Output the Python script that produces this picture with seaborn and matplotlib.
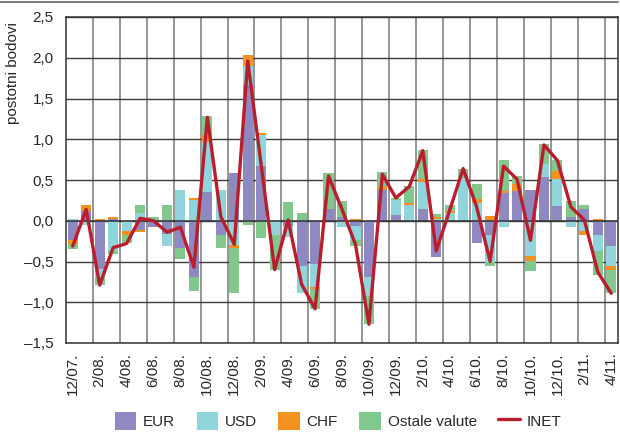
import numpy as np
import pandas as pd
import matplotlib
matplotlib.use("Agg")
from matplotlib import pyplot as plt
from matplotlib.patches import Patch
from matplotlib.lines import Line2D
from matplotlib.ticker import FuncFormatter, MultipleLocator
import seaborn as sns

# monthly contributions, percentage points
months = ['12/07.', '1/08.', '2/08.', '3/08.', '4/08.', '5/08.', '6/08.', '7/08.',
          '8/08.', '9/08.', '10/08.', '11/08.', '12/08.', '1/09.', '2/09.', '3/09.',
          '4/09.', '5/09.', '6/09.', '7/09.', '8/09.', '9/09.', '10/09.', '11/09.',
          '12/09.', '1/10.', '2/10.', '3/10.', '4/10.', '5/10.', '6/10.', '7/10.',
          '8/10.', '9/10.', '10/10.', '11/10.', '12/10.', '1/11.', '2/11.', '3/11.',
          '4/11.']

eur = [-0.24, 0.12, -0.59, 0.02, 0.00, -0.11, -0.08, -0.165,
       -0.33, -0.69, 0.35, -0.17, 0.58, 1.67, 0.67, 0.00,
       -0.07, -0.56, -0.53, 0.15, 0.045, -0.07, -0.69, 0.38,
       0.075, 0.00, 0.15, -0.44, 0.00, 0.00, -0.27, -0.17,
       0.34, 0.37, 0.38, 0.54, 0.18, 0.05, 0.15, -0.17,
       -0.31]
usd = [0.02, -0.05, -0.10, -0.37, -0.13, 0.09, 0.00, -0.145,
       0.38, 0.25, 0.62, 0.38, -0.30, 0.23, 0.38, -0.17,
       -0.13, -0.33, -0.28, 0.00, -0.08, -0.165, -0.23, 0.00,
       0.18, 0.19, 0.33, 0.02, 0.09, 0.53, 0.22, -0.33,
       -0.08, 0.00, -0.43, 0.16, 0.33, -0.08, -0.13, -0.20,
       -0.25]
chf = [-0.04, 0.07, 0.025, 0.03, -0.04, -0.03, 0.00, 0.00,
       0.00, 0.03, 0.08, 0.00, -0.03, 0.13, 0.03, 0.00,
       0.00, 0.00, -0.03, 0.00, 0.00, 0.025, 0.00, 0.03,
       0.00, 0.03, 0.03, 0.025, 0.03, 0.00, 0.05, 0.06,
       0.03, 0.075, -0.06, 0.00, 0.10, 0.00, -0.04, 0.025,
       -0.04]
other = [-0.07, 0.00, -0.10, -0.04, -0.10, 0.10, 0.04, 0.19,
         -0.14, -0.17, 0.24, -0.17, -0.56, -0.05, -0.21, -0.43,
         0.23, 0.09, -0.24, 0.43, 0.20, -0.07, -0.35, 0.19,
         0.03, 0.21, 0.36, 0.04, 0.07, 0.11, 0.18, -0.06,
         0.37, 0.10, -0.13, 0.24, 0.13, 0.19, 0.04, -0.30,
         -0.29]
inet = [-0.31, 0.14, -0.79, -0.33, -0.28, 0.03, 0.00, -0.14,
        -0.08, -0.57, 1.27, 0.05, -0.29, 1.96, 0.68, -0.60,
        0.01, -0.78, -1.08, 0.55, 0.14, -0.29, -1.27, 0.57,
        0.28, 0.42, 0.86, -0.37, 0.13, 0.64, 0.17, -0.50,
        0.67, 0.51, -0.24, 0.93, 0.74, 0.17, 0.01, -0.63,
        -0.89]

series_names = ['EUR', 'USD', 'CHF', 'Ostale valute']
colors = ['#8f89c2', '#90d5dc', '#f39220', '#82c88d']
line_color = '#b81e2b'

sns.set_style("white")
plt.rcParams['font.family'] = ['Liberation Sans', 'DejaVu Sans']

fig = plt.figure(figsize=(6.2, 4.34), dpi=100)
ax = fig.add_axes([66 / 620, 1 - 343 / 434, 552 / 620, 326 / 434])

# positive and negative parts stacked separately (drawn top layer last)
data = np.array([eur, usd, chf, other])
pos_cum = np.cumsum(np.clip(data, 0, None), axis=0)
neg_cum = np.cumsum(np.clip(data, None, 0), axis=0)
for k in range(3, -1, -1):
    for cum in (pos_cum, neg_cum):
        df = pd.DataFrame({'month': months, 'value': cum[k]})
        sns.barplot(data=df, x='month', y='value', order=months, color=colors[k],
                    saturation=1, width=0.75, linewidth=0, errorbar=None, ax=ax,
                    zorder=2)

sns.lineplot(x=np.arange(len(months)), y=inet, color=line_color, linewidth=2.4,
             ax=ax, zorder=4)

ax.axhline(0, color='#333333', lw=1.1, zorder=3)

ax.set_xlim(-0.5, len(months) - 0.5)
ax.set_ylim(-1.5, 2.5)
ax.yaxis.set_major_locator(MultipleLocator(0.5))
ax.yaxis.set_major_formatter(
    FuncFormatter(lambda v, _: f"{v:.1f}".replace('.', ',').replace('-', '\u2013')))
ax.set_xticks(np.arange(0, len(months), 2))
ax.set_xticklabels(months[::2], rotation=90, fontsize=11)
ax.set_xticks(np.arange(1.5, len(months) - 1, 2), minor=True)
ax.tick_params(axis='both', which='both', length=0, labelsize=11)
ax.tick_params(axis='x', pad=7)
ax.tick_params(axis='y', pad=9)
ax.set_xlabel('')
ax.set_ylabel('')

ax.grid(axis='y', which='major', color='#3c3c3c', lw=1.0)
ax.grid(axis='x', which='minor', color='#8c8c8c', lw=1.3)
ax.grid(axis='x', which='major', visible=False)
ax.set_axisbelow(True)
for s in ax.spines.values():
    s.set_color('#333333')
    s.set_linewidth(1.1)

fig.text(13 / 620, 1 - 73 / 434, 'postotni bodovi', rotation=90, ha='center',
         va='center', fontsize=11)

# thin rule at the top of the figure
fig.add_artist(Line2D([0, 618 / 620], [1 - 2 / 434] * 2, color='#6e6e6e', lw=1.3,
                      transform=fig.transFigure))

handles = [Patch(facecolor=c, edgecolor='none', label=n) for c, n in zip(colors, series_names)]
handles.append(Line2D([0], [0], color=line_color, lw=2.4, label='INET'))
fig.legend(handles=handles, loc='center', bbox_to_anchor=(338 / 620, 1 - 421 / 434),
           ncol=5, frameon=False, fontsize=11, handlelength=1.4, handleheight=1.4,
           columnspacing=1.4, handletextpad=0.45)

fig.savefig('out.png', dpi=100)
